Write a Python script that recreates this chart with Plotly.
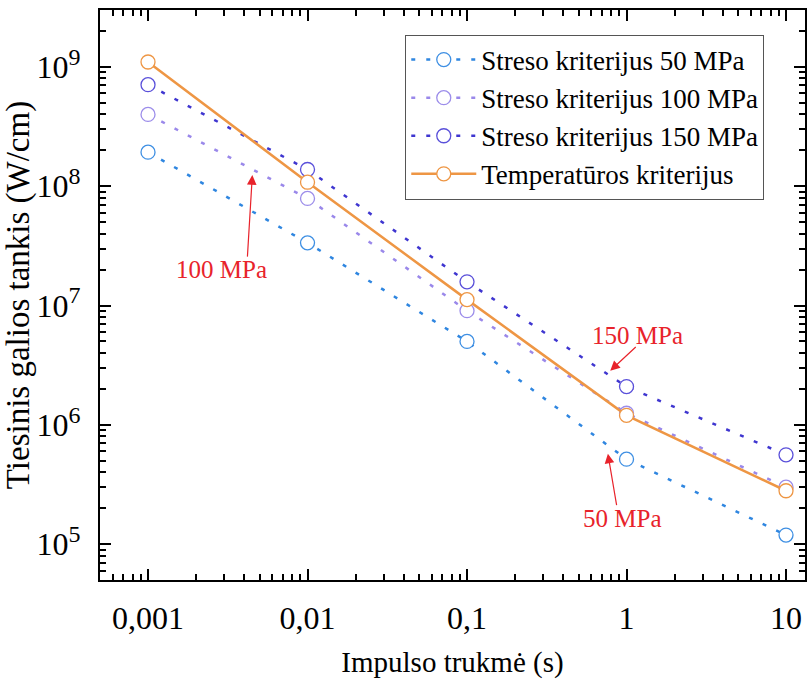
import plotly.graph_objects as go
import math

# ---- data ----
impulse_s = [0.001, 0.01, 0.1, 1, 10]
stress_50 = [1.93e8, 3.35e7, 5.0e6, 5.15e5, 1.19e5]
stress_100 = [4.0e8, 7.9e7, 9.05e6, 1.25e6, 3.0e5]
stress_150 = [7.1e8, 1.38e8, 1.58e7, 2.09e6, 5.6e5]
temperature = [1.1e9, 1.08e8, 1.12e7, 1.2e6, 2.8e5]

series_names = ["Streso kriterijus 50 MPa", "Streso kriterijus 100 MPa",
                "Streso kriterijus 150 MPa", "Temperatūros kriterijus"]

x_tickvals = [0.001, 0.01, 0.1, 1, 10]
x_ticktext = ["0,001", "0,01", "0,1", "1", "10"]
y_tickvals = [1e5, 1e6, 1e7, 1e8, 1e9]
y_exponents = ["5", "6", "7", "8", "9"]
y_ticktext = ['10<sup><span style="font-size:24px">%s</span></sup>' % e for e in y_exponents]

FONT = "Liberation Serif"

fig = go.Figure()

dot_style = "4px,11px"
styles = [
    (stress_50, "#2F86E0", "#3E8FE3", dot_style, 2.5),
    (stress_100, "#9A88EA", "#9C8DEA", dot_style, 2.5),
    (stress_150, "#3F36D0", "#5A50DA", dot_style, 2.5),
    (temperature, "#EE9644", "#EE9644", "solid", 2.5),
]
for (vals, lcol, mcol, dash, lw), name in zip(styles, series_names):
    fig.add_trace(go.Scatter(
        x=impulse_s, y=vals, name=name, mode="lines+markers",
        line=dict(color=lcol, width=lw, dash=dash),
        marker=dict(symbol="circle", size=14, color="white",
                    line=dict(color=mcol, width=1.3)),
    ))

minor_x = [m * 10 ** e for e in range(-4, 2) for m in range(2, 10)]
minor_y = [m * 10 ** e for e in range(4, 10) for m in range(2, 10)]

axis_common = dict(
    type="log", showgrid=False, zeroline=False,
    showline=True, linecolor="black", linewidth=2,
    mirror="allticks", ticks="inside", ticklen=11, tickwidth=1.5, tickcolor="black",
    tickfont=dict(family=FONT, size=32, color="black"),
)

fig.update_xaxes(
    **axis_common,
    range=[math.log10(0.0005), 1.119],
    tickmode="array", tickvals=x_tickvals, ticktext=x_ticktext,
    minor=dict(tickmode="array", tickvals=minor_x, ticks="inside", ticklen=6,
               tickwidth=1.5, tickcolor="black", showgrid=False),
    ticklabelstandoff=9,
    title=dict(text="Impulso trukmė (s)", font=dict(family=FONT, size=29, color="black"),
               standoff=22),
)
fig.update_yaxes(
    **axis_common,
    range=[math.log10(5e4), math.log10(3e9)],
    tickmode="array", tickvals=y_tickvals, ticktext=y_ticktext,
    minor=dict(tickmode="array", tickvals=minor_y, ticks="inside", ticklen=6,
               tickwidth=1.5, tickcolor="black", showgrid=False),
    ticklabelstandoff=11,
    title=dict(text="Tiesinis galios tankis (W/cm)", font=dict(family=FONT, size=33, color="black"),
               standoff=12),
)

RED = "#E8232B"
# arrows (tip in data/log coords, tail offset in pixels)
arrows = [
    (-2.346, 8.093, -5, 83),
    (-0.102, 6.454, 27, -25),
    (-0.117, 5.758, 9, 53),
]
for x, y, ax, ay in arrows:
    fig.add_annotation(x=x, y=y, xref="x", yref="y", ax=ax, ay=ay, text="",
                       showarrow=True, arrowhead=2, arrowsize=1.6, arrowwidth=1.2,
                       arrowcolor=RED)
labels = [
    ("100 MPa", -2.541, 7.301),
    ("150 MPa", 0.069, 6.748),
    ("50 MPa", -0.031, 5.216),
]
for t, x, y in labels:
    fig.add_annotation(x=x, y=y, xref="x", yref="y", text=t, showarrow=False,
                       font=dict(family=FONT, size=25, color=RED))

fig.update_layout(
    width=807, height=679,
    margin=dict(l=100, r=0, t=10, b=96),
    paper_bgcolor="white", plot_bgcolor="white",
    font=dict(family=FONT, color="black"),
    legend=dict(
        x=0.433, y=0.957, xanchor="left", yanchor="top",
        bgcolor="white", bordercolor="#555555", borderwidth=1,
        font=dict(family=FONT, size=27, color="black"),
        itemwidth=65, entrywidth=355, entrywidthmode="pixels",
    ),
)

fig.write_html("out.html")
